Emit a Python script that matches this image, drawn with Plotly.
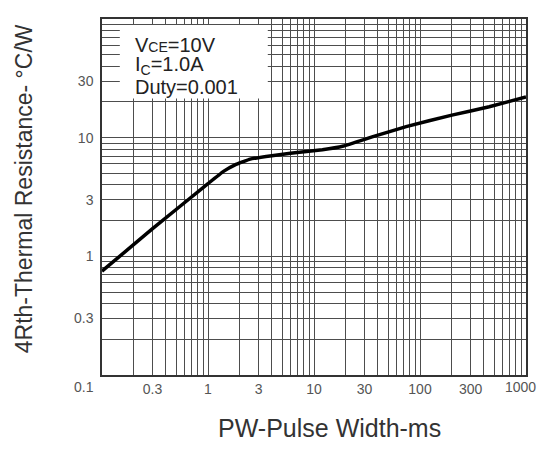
import plotly.graph_objects as go

# Curve data
pulse_width_ms = [0.1, 0.3, 1.0, 1.4, 1.8, 2.5, 4, 6, 12, 19, 36, 74, 200, 450, 1000]
thermal_resistance = [0.75, 1.71, 4.1, 5.2, 5.9, 6.6, 7.05, 7.4, 7.9, 8.5, 10.2, 12.4, 15.5, 18.2, 22.0]

# Axis tick labels and grid
x_tick_vals = [0.3, 1, 3, 10, 30, 100, 300]
x_tick_text = ["0.3", "1", "3", "10", "30", "100", "300"]
y_tick_vals = [0.3, 1, 3, 10, 30]
y_tick_text = ["0.3", "1", "3", "10", "30"]
x_decades = [0.1, 1, 10, 100]
y_decades = [0.1, 1, 10]

x_grid = [round(k * d, 6) for d in x_decades for k in range(1, 10)] + [1000]
y_grid = [round(k * d, 6) for d in y_decades for k in range(1, 10)] + [100]

FONT = "Liberation Sans, Arial, sans-serif"
GRID = "#4d4d4d"
TICK_FONT = dict(size=14, color="#555", family=FONT)

fig = go.Figure()
fig.add_trace(go.Scatter(
    x=pulse_width_ms, y=thermal_resistance, mode="lines",
    line=dict(color="black", width=3.5, shape="spline", smoothing=0.3),
    showlegend=False, hoverinfo="skip"))

# the page body has an 8px margin, so the figure is 16px smaller than the 545x450 window
fig.update_layout(
    width=529, height=434,
    margin=dict(l=94, r=10, t=9, b=67),
    paper_bgcolor="white", plot_bgcolor="white",
    font=dict(family=FONT, color="#333"),
    xaxis=dict(type="log", range=[-1, 3], tickmode="array",
               tickvals=x_tick_vals, ticktext=x_tick_text,
               showgrid=True, gridcolor=GRID, gridwidth=1,
               minor=dict(tickmode="array", tickvals=x_grid, showgrid=True,
                          gridcolor=GRID, gridwidth=1, ticks=""),
               showline=True, linecolor="#333", linewidth=1.5, mirror=True,
               ticks="", tickfont=TICK_FONT, zeroline=False),
    yaxis=dict(type="log", range=[-1, 2], tickmode="array",
               tickvals=y_tick_vals, ticktext=y_tick_text,
               showgrid=True, gridcolor=GRID, gridwidth=1,
               minor=dict(tickmode="array", tickvals=y_grid, showgrid=True,
                          gridcolor=GRID, gridwidth=1, ticks=""),
               showline=True, linecolor="#333", linewidth=1.5, mirror=True,
               ticks="", ticklabelstandoff=4, tickfont=TICK_FONT, zeroline=False),
)

# White box behind the conditions text
fig.add_shape(type="rect", xref="paper", yref="paper",
              x0=0.042, x1=0.391, y0=0.777, y1=0.983,
              fillcolor="white", line=dict(width=0), layer="above")

ann_font = dict(family=FONT, size=20, color="#222")
fig.add_annotation(xref="paper", yref="paper", x=0.076, y=0.928, xanchor="left", yanchor="middle",
                   text="V<span style='font-size:14px'>CE</span>=10V", showarrow=False,
                   font=ann_font, borderpad=0)
fig.add_annotation(xref="paper", yref="paper", x=0.076, y=0.870, xanchor="left", yanchor="middle",
                   text="I<sub>C</sub>=1.0A", showarrow=False, font=ann_font, borderpad=0)
fig.add_annotation(xref="paper", yref="paper", x=0.076, y=0.808, xanchor="left", yanchor="middle",
                   text="Duty=0.001", showarrow=False, font=ann_font, borderpad=0)

# corner labels of the x axis, placed as in the reference
fig.add_annotation(xref="paper", yref="paper", x=(84 - 102) / 425, y=-(387 - 375) / 358,
                   xanchor="center", yanchor="middle", text="0.1", showarrow=False, font=TICK_FONT)
fig.add_annotation(xref="paper", yref="paper", x=(521 - 102) / 425, y=-(387 - 375) / 358,
                   xanchor="center", yanchor="middle", text="1000", showarrow=False, font=TICK_FONT)

# Axis titles
fig.add_annotation(xref="paper", yref="paper", x=(330 - 102) / 425, y=-(428 - 375) / 358,
                   xanchor="center", yanchor="middle", text="PW-Pulse Width-ms", showarrow=False,
                   font=dict(size=25, color="#333", family=FONT))
fig.add_annotation(xref="paper", yref="paper", x=(24 - 102) / 425, y=(375 - 188) / 358,
                   xanchor="center", yanchor="middle", textangle=-90,
                   text="4Rth-Thermal Resistance- °C/W", showarrow=False,
                   font=dict(size=23, color="#333", family=FONT))

fig.write_html("out.html", config={"displayModeBar": False})
